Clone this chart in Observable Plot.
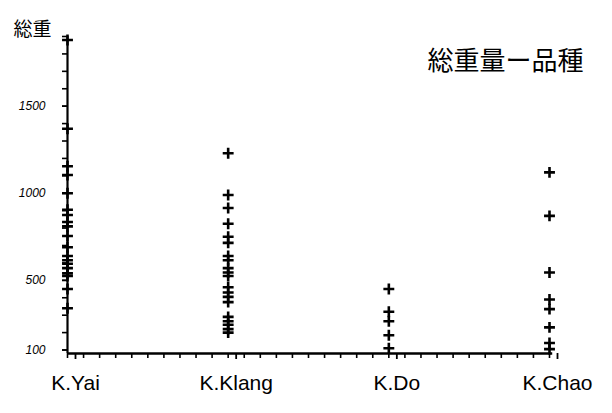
<!DOCTYPE html>
<html>
<head>
<meta charset="utf-8">
<script src="https://cdn.jsdelivr.net/npm/d3@7"></script>
<script src="https://cdn.jsdelivr.net/npm/@observablehq/plot@0.6"></script>
<style>
  html, body { margin: 0; padding: 0; background: #fff; }
</style>
</head>
<body>
<div id="chart"></div>
<script>
const categories = ["K.Yai", "K.Klang", "K.Do", "K.Chao"];
const yaiWeights = [1880, 1370, 1155, 1105, 1000, 905, 875, 835, 810, 755, 690, 640, 615, 595, 570, 540, 525, 450, 340];
const klangWeights = [1230, 990, 915, 825, 750, 715, 640, 615, 570, 545, 525, 460, 430, 405, 375, 290, 265, 245, 220, 200];
const doWeights = [450, 320, 265, 185, 110];
const chaoWeights = [1120, 870, 545, 390, 335, 230, 140, 105];
const yTickLabels = [100, 500, 1000, 1500];
const yMinorTicks = d3.range(100, 1901, 100);
const title = "総重量ー品種";
const yLabel = "総重";

const series = [yaiWeights, klangWeights, doWeights, chaoWeights];
const points = series.flatMap((vals, i) => vals.map(v => ({cat: i, weight: v})));
const xMinorTicks = d3.range(0, 31).map(d => d / 10);

const chart = Plot.plot({
  width: 612,
  height: 413,
  marginLeft: 67,
  marginRight: 63,
  marginTop: 36,
  marginBottom: 60,
  style: {fontFamily: "Liberation Sans, DejaVu Sans, sans-serif", background: "#fff", color: "#000"},
  x: {type: "linear", domain: [0, 3], label: null},
  y: {domain: [80, 1900], label: null},
  marks: [
    Plot.axisX(xMinorTicks, {tickSize: 5, tickFormat: () => "", strokeWidth: 1.6, label: null}),
    Plot.axisX([0, 1, 2, 3], {tickSize: 6, tickPadding: 16, tickFormat: i => categories[i], fontSize: 21, dx: 8, strokeWidth: 1.8, label: null}),
    Plot.axisY(yMinorTicks, {tickSize: 5, tickFormat: () => "", strokeWidth: 1.6, label: null}),
    Plot.axisY(yTickLabels, {tickSize: 5, tickPadding: 17, fontSize: 12, fontStyle: "italic", tickFormat: d => String(d), strokeWidth: 1.6, label: null}),
    Plot.ruleX([0], {stroke: "#000", strokeWidth: 2.2}),
    Plot.ruleY([80], {x1: 0, x2: 3.02, stroke: "#000", strokeWidth: 2.4}),
    Plot.dot(points, {x: "cat", y: "weight", symbol: "plus", r: 3.6, stroke: "#000", strokeWidth: 2.6}),
    Plot.text([title], {frameAnchor: "top-right", dx: -44, dy: 15, textAnchor: "middle", fontSize: 26, fontFamily: "Noto Sans CJK JP", fill: "#000"}),
    Plot.text([yLabel], {frameAnchor: "top-left", dx: -35, dy: -14, textAnchor: "middle", fontSize: 19, fontFamily: "Noto Sans CJK JP", fill: "#000"})
  ]
});
chart.style.overflow = "visible";
document.getElementById("chart").append(chart);
</script>
</body>
</html>
